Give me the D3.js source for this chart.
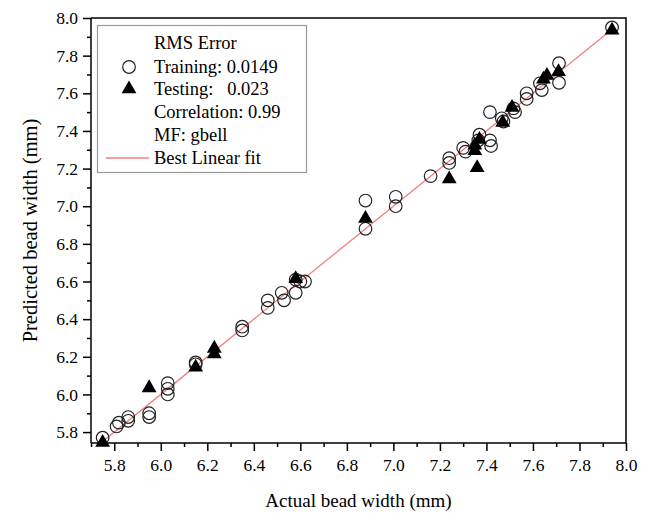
<!DOCTYPE html>
<html><head><meta charset="utf-8">
<script src="https://cdn.jsdelivr.net/npm/d3@7"></script>
<style>body{margin:0;background:#fff}svg{display:block}text{font-family:"Liberation Serif","Times New Roman",serif;fill:#000}</style>
</head><body><svg id="c" width="648" height="515"></svg>
<script>
const trainX=[5.75,5.81,5.82,5.86,5.86,5.95,5.95,6.03,6.03,6.03,6.15,6.15,6.35,6.35,6.46,6.46,6.52,6.53,6.58,6.58,6.60,6.62,6.88,6.88,7.01,7.01,7.16,7.24,7.24,7.30,7.31,7.37,7.365,7.415,7.42,7.415,7.466,7.473,7.516,7.523,7.573,7.573,7.63,7.638,7.712,7.712,7.94];
const trainY=[5.77,5.83,5.85,5.88,5.86,5.90,5.88,6.06,6.03,6.00,6.17,6.16,6.36,6.34,6.46,6.50,6.54,6.50,6.54,6.61,6.60,6.60,7.03,6.88,7.05,7.00,7.16,7.255,7.23,7.31,7.29,7.38,7.35,7.35,7.32,7.50,7.467,7.45,7.52,7.50,7.60,7.57,7.653,7.617,7.76,7.656,7.95];
const testX=[5.75,5.95,6.15,6.23,6.23,6.58,6.88,7.24,7.35,7.35,7.36,7.37,7.47,7.51,7.645,7.66,7.71,7.94];
const testY=[5.75,6.04,6.15,6.25,6.22,6.62,6.94,7.15,7.33,7.30,7.21,7.36,7.45,7.53,7.68,7.70,7.72,7.94];
const fitRange=[5.74,7.95];
const fitSlope=1.0, fitIntercept=0.0;
const xTicks=[5.8,6.0,6.2,6.4,6.6,6.8,7.0,7.2,7.4,7.6,7.8,8.0];
const yTicks=[5.8,6.0,6.2,6.4,6.6,6.8,7.0,7.2,7.4,7.6,7.8,8.0];
const legendLines=["RMS Error","Training: 0.0149","Testing:   0.023","Correlation: 0.99","MF: gbell","Best Linear fit"];

const svg=d3.select("#c");
const L=91,T=18,R=626,B=443;
const x=d3.scaleLinear().domain([5.7,8.0]).range([L,R]);
const y=d3.scaleLinear().domain([5.742,8.0]).range([B,T]);

// minor ticks
const xMinor=d3.range(57,81).map(d=>d/10).filter(v=>!xTicks.some(t=>Math.abs(t-v)<1e-6));
const yMinor=d3.range(58,81).map(d=>d/10-0.1).filter(v=>v>=5.742&&!yTicks.some(t=>Math.abs(t-v)<1e-6));
const gx=svg.append("g").attr("transform",`translate(0,${B})`);
gx.call(d3.axisBottom(x).tickValues(xTicks).tickFormat(d3.format(".1f")).tickSize(8).tickPadding(8));
gx.append("g").call(d3.axisBottom(x).tickValues(xMinor).tickFormat("").tickSize(4)).select(".domain").remove();
const gy=svg.append("g").attr("transform",`translate(${L},0)`);
gy.call(d3.axisLeft(y).tickValues(yTicks).tickFormat(d3.format(".1f")).tickSize(8).tickPadding(5));
gy.append("g").call(d3.axisLeft(y).tickValues(yMinor).tickFormat("").tickSize(4)).select(".domain").remove();
svg.selectAll(".tick text").style("font-family",'"Liberation Serif",serif').style("font-size","17.5px").attr("fill","#000");
svg.selectAll(".domain,.tick line").attr("stroke","#000").attr("stroke-width",1.5);
gy.select(".domain").attr("d",`M0,${B}V${T}`);
gx.select(".domain").attr("d",`M${L},0H${R}`);
// frame
svg.append("path").attr("d",`M${L},${T}H${R}V${B}`).attr("fill","none").attr("stroke","#000").attr("stroke-width",1.5);

// fit line
svg.append("line").attr("x1",x(fitRange[0])).attr("y1",y(fitSlope*fitRange[0]+fitIntercept))
  .attr("x2",x(fitRange[1])).attr("y2",y(fitSlope*fitRange[1]+fitIntercept))
  .attr("stroke","#f08080").attr("stroke-width",1.3);

const tri=d3.symbol().type(d3.symbolTriangle).size(95);
// training circles
svg.append("g").selectAll("circle").data(trainX).join("circle")
  .attr("cx",(d,i)=>x(d)).attr("cy",(d,i)=>y(trainY[i])).attr("r",6.3)
  .attr("fill","none").attr("stroke","#222").attr("stroke-width",1.2);
// testing triangles
svg.append("g").selectAll("path").data(testX).join("path")
  .attr("d",tri).attr("transform",(d,i)=>`translate(${x(d)},${y(testY[i])+1})`).attr("fill","#000");

// legend
const lg=svg.append("g");
lg.append("rect").attr("x",97.5).attr("y",25.5).attr("width",209).attr("height",147).attr("fill","#fff").attr("stroke","#999").attr("stroke-width",1.2);
const ly=[43,67,89,112,135,158];
lg.selectAll("text").data(legendLines).join("text").attr("x",154).attr("y",(d,i)=>ly[i]+6)
  .attr("font-size","18.5px").attr("xml:space","preserve").style("white-space","pre").text(d=>d);
lg.append("circle").attr("cx",129).attr("cy",67).attr("r",6.3).attr("fill","none").attr("stroke","#222").attr("stroke-width",1.2);
lg.append("path").attr("d",tri).attr("transform","translate(129,89)").attr("fill","#000");
lg.append("line").attr("x1",106).attr("x2",149).attr("y1",158).attr("y2",158).attr("stroke","#f08080").attr("stroke-width",1.3);

// axis titles
svg.append("text").attr("x",(L+R)/2).attr("y",507).attr("text-anchor","middle").attr("font-size","19px").text("Actual bead width (mm)");
svg.append("text").attr("transform",`translate(37,${(T+B)/2}) rotate(-90)`).attr("text-anchor","middle").attr("font-size","20.5px").text("Predicted bead width (mm)");
</script></body></html>
